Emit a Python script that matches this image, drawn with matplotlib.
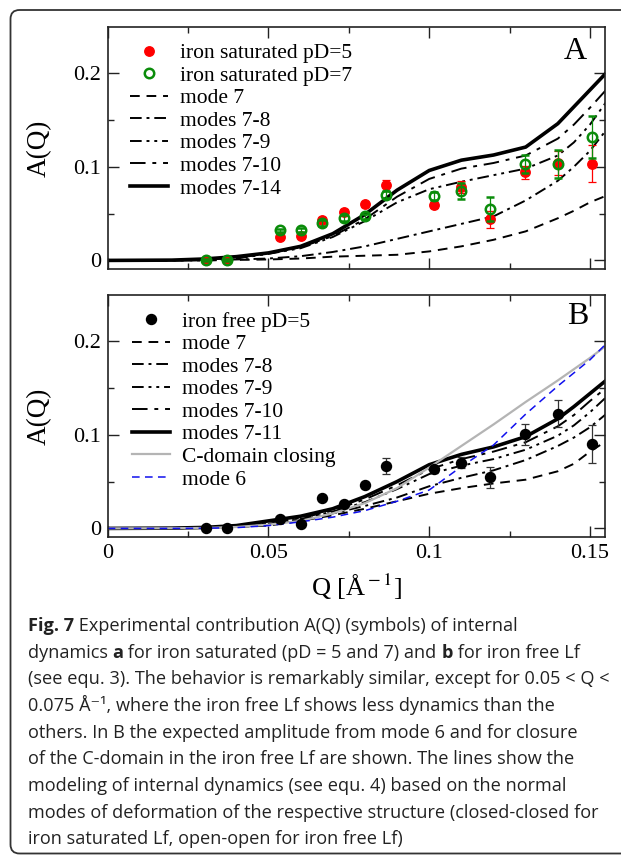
import matplotlib
matplotlib.use('Agg')

import matplotlib.pyplot as plt
import matplotlib.transforms as mtransforms
from matplotlib.patches import FancyBboxPatch
from matplotlib.lines import Line2D
from matplotlib.ticker import MultipleLocator

plt.rcParams['font.family'] = ['Liberation Serif', 'DejaVu Serif']
plt.rcParams['mathtext.fontset'] = 'stix'

# === data ===
Q_PTS = [0.0305, 0.0371, 0.0536, 0.0601, 0.0667, 0.0735, 0.0800,
         0.0867, 0.1014, 0.1100, 0.1188, 0.1297, 0.1401, 0.1505]

SAT5_A = [0.0, 0.0, 0.0249, 0.0263, 0.0434, 0.052, 0.0598,
          0.080, 0.0594, 0.0783, 0.0441, 0.094, 0.104, 0.1032]
SAT5_ERR = [0.001, 0.001, 0.002, 0.002, 0.003, 0.003, 0.003,
            0.006, 0.003, 0.006, 0.009, 0.007, 0.0125, 0.0196]

SAT7_A = [0.0, 0.0, 0.032, 0.0327, 0.0399, 0.0452, 0.047,
          0.0701, 0.069, 0.0744, 0.0552, 0.1029, 0.1032, 0.1317]
SAT7_ERR = [0.001, 0.001, 0.002, 0.002, 0.003, 0.003, 0.003,
            0.004, 0.004, 0.0084, 0.013, 0.010, 0.015, 0.022]

FREE5_A = [0.0, 0.0, 0.010, 0.0046, 0.0328, 0.0256, 0.0463,
           0.0666, 0.063, 0.0701, 0.0545, 0.1004, 0.1222, 0.0901]
FREE5_ERR = [0.001, 0.001, 0.002, 0.002, 0.003, 0.003, 0.003,
             0.0084, 0.004, 0.006, 0.0112, 0.011, 0.0144, 0.0208]

Q_MODEL = [0, 0.02, 0.03, 0.04, 0.05, 0.06, 0.07, 0.08, 0.09,
           0.10, 0.11, 0.12, 0.13, 0.14, 0.145, 0.15, 0.155]

# panel A (closed-closed)
A_MODE7 = [0, 0, 0, 0.0005, 0.001, 0.002, 0.004, 0.005, 0.006,
           0.0096, 0.015, 0.022, 0.031, 0.045, 0.053, 0.062, 0.069]
A_7_8 = [0, 0, 0, 0.001, 0.002, 0.0045, 0.009, 0.015, 0.023,
         0.031, 0.039, 0.047, 0.064, 0.085, 0.100, 0.117, 0.139]
A_7_9 = [0, 0.0001, 0.0005, 0.002, 0.007, 0.013, 0.025, 0.042, 0.062,
         0.076, 0.084, 0.091, 0.098, 0.112, 0.126, 0.145, 0.169]
A_7_10 = [0, 0.0001, 0.0008, 0.0025, 0.0075, 0.014, 0.026, 0.044, 0.068,
          0.087, 0.098, 0.104, 0.112, 0.130, 0.145, 0.163, 0.182]
A_7_14 = [0, 0.0003, 0.0015, 0.004, 0.008, 0.015, 0.0285, 0.049, 0.075,
          0.096, 0.107, 0.1125, 0.121, 0.146, 0.164, 0.182, 0.200]

# panel B (open-open)
B_MODE7 = [0, 0.0001, 0.0005, 0.0015, 0.003, 0.008, 0.014, 0.021, 0.029,
           0.037, 0.043, 0.048, 0.052, 0.061, 0.069, 0.082, 0.093]
B_7_8 = [0, 0.0002, 0.0006, 0.002, 0.004, 0.009, 0.016, 0.024, 0.033,
         0.045, 0.054, 0.062, 0.073, 0.088, 0.097, 0.108, 0.122]
B_7_9 = [0, 0.0002, 0.0007, 0.002, 0.005, 0.010, 0.018, 0.028, 0.042,
         0.058, 0.067, 0.074, 0.084, 0.099, 0.110, 0.124, 0.140]
B_7_10 = [0, 0.0002, 0.0008, 0.0025, 0.006, 0.011, 0.019, 0.031, 0.046,
          0.063, 0.074, 0.082, 0.092, 0.109, 0.121, 0.136, 0.150]
B_7_11 = [0, 0.0003, 0.001, 0.003, 0.008, 0.013, 0.021, 0.034, 0.050,
          0.068, 0.079, 0.087, 0.098, 0.117, 0.130, 0.144, 0.158]
B_CDOM = [0, 0.0002, 0.0005, 0.0015, 0.004, 0.008, 0.016, 0.027, 0.043,
          0.065, 0.088, 0.111, 0.135, 0.158, 0.170, 0.182, 0.195]
B_MODE6 = [0, 0, 0.0002, 0.0008, 0.003, 0.007, 0.012, 0.019, 0.029,
           0.041, 0.066, 0.089, 0.122, 0.152, 0.166, 0.180, 0.197]

X_TICKS = [0, 0.05, 0.1, 0.15]
X_TICKLABELS = ['0', '0.05', '0.1', '0.15']
Y_TICKS = [0, 0.1, 0.2]
Y_TICKLABELS = ['0', '0.1', '0.2']

CAPTION = [
    [('Fig. 7', 'bold'), (' Experimental contribution A(Q) (symbols) of internal', 'normal')],
    [('dynamics ', 'normal'), ('a', 'bold'), (' for iron saturated (pD = 5 and 7) and ', 'normal'),
     ('b', 'bold'), (' for iron free Lf', 'normal')],
    [('(see equ. 3). The behavior is remarkably similar, except for 0.05 < Q <', 'normal')],
    [('0.075 Å\u207b\u00b9, where the iron free Lf shows less dynamics than the', 'normal')],
    [('others. In B the expected amplitude from mode 6 and for closure', 'normal')],
    [('of the C-domain in the iron free Lf are shown. The lines show the', 'normal')],
    [('modeling of internal dynamics (see equ. 4) based on the normal', 'normal')],
    [('modes of deformation of the respective structure (closed-closed for', 'normal')],
    [('iron saturated Lf, open-open for iron free Lf)', 'normal')],
]
# ================================

RED = '#ff0000'
GREEN = '#0a8c0a'
STY_M7 = (0, (5, 3.5))
STY_78 = (0, (6, 2.5, 1.5, 2.5))
STY_79 = (0, (6, 2.5, 1.5, 2.5, 1.5, 2.5))
STY_710 = (0, (8, 3.5, 2, 3.5))
LW = 1.4
TICK_FS = 16
LEG_FS = 15.5

W, H = 621, 856
fig = plt.figure(figsize=(W / 100, H / 100), dpi=100)
fig.patch.set_facecolor('white')

axA = fig.add_axes([107.7 / W, 1 - 269.3 / H, 497.4 / W, 242.6 / H])
axB = fig.add_axes([107.7 / W, 1 - 537.3 / H, 497.4 / W, 242.6 / H])


def style_axis(ax):
    ax.set_xlim(0, 0.1547)
    ax.set_ylim(-0.0095, 0.2495)
    ax.set_xticks(X_TICKS)
    ax.set_xticklabels(X_TICKLABELS)
    ax.set_yticks(Y_TICKS)
    ax.set_yticklabels(Y_TICKLABELS)
    ax.xaxis.set_minor_locator(MultipleLocator(0.025))
    ax.yaxis.set_minor_locator(MultipleLocator(0.05))
    ax.tick_params(which='both', direction='in', top=True, right=True,
                   width=1.0, labelsize=TICK_FS, color='#222222')
    ax.tick_params(which='major', length=8)
    ax.tick_params(which='minor', length=4)
    ax.tick_params(axis='y', pad=5)
    ax.tick_params(axis='x', pad=5)
    for sp in ax.spines.values():
        sp.set_linewidth(1.2)
        sp.set_color('#222222')
    ax.set_ylabel('A(Q)', fontsize=19.5)
    ax.yaxis.set_label_coords(-0.113, 0.5)


# ---- panel A ----
axA.plot(Q_MODEL, A_MODE7, color='black', lw=LW, ls=STY_M7, label='mode 7')
axA.plot(Q_MODEL, A_7_8, color='black', lw=LW, ls=STY_78, label='modes 7-8')
axA.plot(Q_MODEL, A_7_9, color='black', lw=LW, ls=STY_79, label='modes 7-9')
axA.plot(Q_MODEL, A_7_10, color='black', lw=LW, ls=STY_710, label='modes 7-10')
axA.plot(Q_MODEL, A_7_14, color='black', lw=2.6, label='modes 7-14')

axA.errorbar(Q_PTS, SAT5_A, yerr=SAT5_ERR, fmt='o', color=RED, ms=6.8,
             ecolor=RED, elinewidth=0.9, capsize=3, capthick=0.9, zorder=4)
axA.errorbar(Q_PTS, SAT7_A, yerr=SAT7_ERR, fmt='o', mfc='none', mec=GREEN,
             mew=1.8, ms=6.8, ecolor=GREEN, elinewidth=0.9, capsize=3,
             capthick=0.9, zorder=5)

hA = [Line2D([], [], ls='none', marker='o', color=RED, ms=6.8),
      Line2D([], [], ls='none', marker='o', mfc='none', mec=GREEN, mew=1.8, ms=6.8)]
lines_A = axA.get_lines()[:5]
axA.legend(hA + lines_A,
           ['iron saturated pD=5', 'iron saturated pD=7', 'mode 7', 'modes 7-8',
            'modes 7-9', 'modes 7-10', 'modes 7-14'],
           loc='upper left', bbox_to_anchor=(0.045, 0.932), frameon=False,
           fontsize=LEG_FS, handlelength=1.75, handletextpad=0.55,
           labelspacing=0.115, borderpad=0, borderaxespad=0)
axA.text(0.9395, 0.897, 'A', transform=axA.transAxes, fontsize=23,
         ha='center', va='center')
style_axis(axA)
axA.tick_params(axis='x', labelbottom=False)

# ---- panel B ----
axB.plot(Q_MODEL, B_MODE7, color='black', lw=LW, ls=STY_M7, label='mode 7')
axB.plot(Q_MODEL, B_7_8, color='black', lw=LW, ls=STY_78, label='modes 7-8')
axB.plot(Q_MODEL, B_7_9, color='black', lw=LW, ls=STY_79, label='modes 7-9')
axB.plot(Q_MODEL, B_7_10, color='black', lw=LW, ls=STY_710, label='modes 7-10')
axB.plot(Q_MODEL, B_7_11, color='black', lw=2.6, label='modes 7-11')
axB.plot(Q_MODEL, B_CDOM, color='#b4b4b4', lw=1.6, label='C-domain closing')
axB.plot(Q_MODEL, B_MODE6, color='#1010ee', lw=1.1, ls=(0, (5, 3.5)), label='mode 6')

axB.errorbar(Q_PTS, FREE5_A, yerr=FREE5_ERR, fmt='o', color='black', ms=7.2,
             ecolor='#333333', elinewidth=0.9, capsize=3, capthick=0.9, zorder=4)

hB = [Line2D([], [], ls='none', marker='o', color='black', ms=7.2)]
lines_B = axB.get_lines()[:7]
axB.legend(hB + lines_B,
           ['iron free pD=5', 'mode 7', 'modes 7-8', 'modes 7-9', 'modes 7-10',
            'modes 7-11', 'C-domain closing', 'mode 6'],
           loc='upper left', bbox_to_anchor=(0.049, 0.93), frameon=False,
           fontsize=LEG_FS, handlelength=1.75, handletextpad=0.55,
           labelspacing=0.115, borderpad=0, borderaxespad=0)
axB.text(0.9457, 0.909, 'B', transform=axB.transAxes, fontsize=23,
         ha='center', va='center')
style_axis(axB)

fig.text(357 / W, 1 - 587 / H, r'Q [Å$^{\rm -1}$]', fontsize=19,
         ha='center', va='center')

# ---- frame ----
px = mtransforms.IdentityTransform()
frame = FancyBboxPatch((10.5, 2.5), 700, 843.5,
                       boxstyle='round,pad=0,rounding_size=9',
                       transform=px, fill=False, lw=1.3, ec='#333333')
fig.patches.append(frame)

# ---- caption ----
CAP_FAMILY = ['Open Sans', 'DejaVu Sans']
CAP_FS = 13.05
renderer = fig.canvas.get_renderer()
for i, runs in enumerate(CAPTION):
    x = 27.5
    y = H - (631 + 26.65 * i)
    for txt, wt in runs:
        t = fig.text(x, y, txt, fontsize=CAP_FS, fontweight=wt,
                     family=CAP_FAMILY, color='#222222',
                     ha='left', va='baseline', transform=px)
        x = t.get_window_extent(renderer).x1

fig.savefig('out.png', dpi=100, facecolor='white')
